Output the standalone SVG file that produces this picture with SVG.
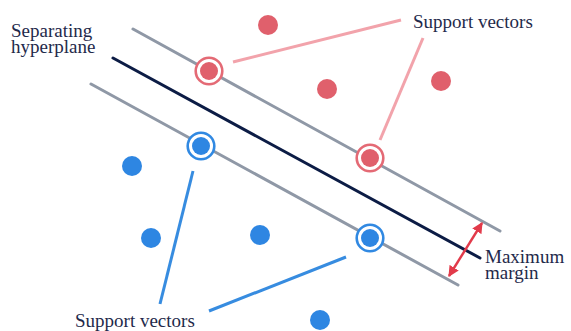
<svg xmlns="http://www.w3.org/2000/svg" width="571" height="331" viewBox="0 0 571 331">
  <style>
    .lbl { font-family: "Liberation Serif", "Times New Roman", "DejaVu Serif", serif; font-size: 19px; fill: #1f2a4b; }
    .margin { stroke: #8f98a6; stroke-width: 3; stroke-linecap: round; fill: none; }
    .hyper { stroke: #0c1c45; stroke-width: 3; stroke-linecap: round; fill: none; }
    .redDot { fill: #e0606c; }
    .blueDot { fill: #2e86e2; }
    .redRing { fill: #fff; stroke: #e46a75; stroke-width: 2.6; }
    .blueRing { fill: #fff; stroke: #3189e2; stroke-width: 2.6; }
    .pinkLead { stroke: #f2a3ab; stroke-width: 3; fill: none; }
    .blueLead { stroke: #378ce0; stroke-width: 3; fill: none; }
  </style>
  <defs>
    <marker id="arrowHead" viewBox="0 0 10 10" refX="9" refY="5" markerWidth="4.5" markerHeight="4.5" orient="auto-start-reverse" markerUnits="strokeWidth">
      <path d="M0,0 L10,5 L0,10 z" fill="#e23a4a"/>
    </marker>
  </defs>
  <rect width="571" height="331" fill="#fff"/>

  <!-- hyperplane and margin boundaries -->
  <g id="boundaries">
    <line class="margin" x1="133" y1="29" x2="500" y2="231"/>
    <line class="hyper" x1="113" y1="58" x2="480" y2="258"/>
    <line class="margin" x1="91" y1="84" x2="458" y2="285"/>
  </g>

  <!-- leader lines and margin arrow -->
  <g id="connectors">
    <line class="pinkLead" x1="233" y1="62" x2="401" y2="20"/>
    <line class="pinkLead" x1="423" y1="38" x2="380" y2="140"/>
    <line class="blueLead" x1="193" y1="171" x2="160" y2="304"/>
    <line class="blueLead" x1="209" y1="311" x2="346" y2="257"/>
    <line x1="482" y1="223" x2="449" y2="276" stroke="#e23a4a" stroke-width="2.4" marker-start="url(#arrowHead)" marker-end="url(#arrowHead)"/>
  </g>

  <!-- class A points -->
  <g id="red-points">
    <circle class="redDot" cx="268" cy="25" r="10"/>
    <circle class="redDot" cx="327" cy="89" r="10"/>
    <circle class="redDot" cx="441" cy="81" r="10"/>
  </g>
  <g id="red-sv-1">
    <circle class="redRing" cx="209" cy="71" r="13.3"/>
    <circle class="redDot" cx="209" cy="71" r="9"/>
  </g>
  <g id="red-sv-2">
    <circle class="redRing" cx="370" cy="158" r="13.3"/>
    <circle class="redDot" cx="370" cy="158" r="9"/>
  </g>

  <!-- class B points -->
  <g id="blue-points">
    <circle class="blueDot" cx="132" cy="166" r="10"/>
    <circle class="blueDot" cx="151" cy="238" r="10"/>
    <circle class="blueDot" cx="260" cy="235" r="10"/>
    <circle class="blueDot" cx="320" cy="320" r="10"/>
  </g>
  <g id="blue-sv-1">
    <circle class="blueRing" cx="201" cy="146" r="13.3"/>
    <circle class="blueDot" cx="201" cy="146" r="9"/>
  </g>
  <g id="blue-sv-2">
    <circle class="blueRing" cx="370" cy="238" r="13.3"/>
    <circle class="blueDot" cx="370" cy="238" r="9"/>
  </g>

  <!-- labels (two-line labels share one text element) -->
  <g id="label-hyperplane">
    <text class="lbl"><tspan x="11" y="36.5">Separating</tspan><tspan x="11" y="53">hyperplane</tspan></text>
  </g>
  <g id="label-sv-top">
    <text class="lbl" x="413" y="28">Support vectors</text>
  </g>
  <g id="label-sv-bottom">
    <text class="lbl" x="75" y="327">Support vectors</text>
  </g>
  <g id="label-margin">
    <text class="lbl"><tspan x="485" y="262.5">Maximum</tspan><tspan x="485" y="279">margin</tspan></text>
  </g>
</svg>
